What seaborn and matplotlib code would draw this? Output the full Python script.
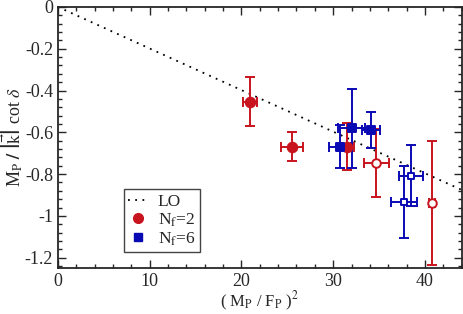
import numpy as np
import pandas as pd
import matplotlib
matplotlib.use("Agg")
import matplotlib.pyplot as plt
import seaborn as sns
from matplotlib.ticker import MultipleLocator
from matplotlib.lines import Line2D

# N_f = 2 (red), filled
nf2_x = [20.95, 25.5, 31.5]
nf2_y = [-0.453, -0.668, -0.668]
nf2_xerr = [0.8, 1.2, 0.8]
nf2_yerr = [0.116, 0.07, 0.112]
# N_f = 2 (red), open
nf2o_x = [34.7, 40.75]
nf2o_y = [-0.748, -0.939]
nf2o_xerr = [1.35, 0.3]
nf2o_yerr = [0.162, 0.297]
# N_f = 6 (blue), filled
nf6_x = [30.7, 32.0, 34.1]
nf6_y = [-0.668, -0.581, -0.589]
nf6_xerr = [1.2, 1.5, 1.0]
nf6_yerr = [0.104, 0.19, 0.084]
# N_f = 6 (blue), open
nf6o_x = [38.5, 37.7]
nf6o_y = [-0.807, -0.934]
nf6o_xerr = [1.3, 1.4]
nf6o_yerr = [0.146, 0.172]

lo_x = [0, 44]
lo_slope = -1 / (16 * np.pi)

RED = "#c8141e"
BLUE = "#0a0ab4"

sns.set_style("ticks")
plt.rcParams["font.family"] = ["Liberation Serif", "DejaVu Serif"]
plt.rcParams["mathtext.fontset"] = "stix"

fig, ax = plt.subplots(figsize=(4.63, 3.14), dpi=100)
fig.subplots_adjust(left=0.125, right=0.997, top=0.978, bottom=0.146)

lo = pd.DataFrame({"x": lo_x, "y": [lo_slope * v for v in lo_x]})
sns.lineplot(data=lo, x="x", y="y", ax=ax, color="black", lw=1.3,
             linestyle=(0, (1, 3)), legend=False)

def draw(xs, ys, xe, ye, color, marker, open_, ms):
    ax.errorbar(xs, ys, xerr=xe, yerr=ye, fmt="none", ecolor=color,
                elinewidth=1.4, capsize=3.8, capthick=1.4, zorder=2)
    df = pd.DataFrame({"x": xs, "y": ys})
    sns.scatterplot(data=df, x="x", y="y", ax=ax, marker=marker, s=ms,
                    color="white" if open_ else color, edgecolor=color,
                    linewidth=1.4, zorder=3, legend=False)

draw(nf2_x, nf2_y, nf2_xerr, nf2_yerr, RED, "o", False, 48)
draw(nf2o_x, nf2o_y, nf2o_xerr, nf2o_yerr, RED, "o", True, 38)
draw(nf6_x, nf6_y, nf6_xerr, nf6_yerr, BLUE, "s", False, 30)
draw(nf6o_x, nf6o_y, nf6o_xerr, nf6o_yerr, BLUE, "s", True, 24)

ax.set_xlim(0, 44)
ax.set_ylim(-1.25, 0)
ax.xaxis.set_major_locator(MultipleLocator(10))
ax.xaxis.set_minor_locator(MultipleLocator(2))
ax.yaxis.set_major_locator(MultipleLocator(0.2))
ax.yaxis.set_minor_locator(MultipleLocator(0.04))
ax.yaxis.set_major_formatter(plt.FuncFormatter(
    lambda v, p: "0" if abs(v) < 1e-9 else ("%g" % round(v, 2))))
ax.tick_params(which="both", direction="in", top=True, right=True, labelsize=13)
ax.tick_params(which="major", length=6, width=1)
ax.tick_params(which="minor", length=3, width=1)
for s in ax.spines.values():
    s.set_linewidth(1.3)

ax.set_xlabel(r"( M$_\mathrm{P}$ / F$_\mathrm{P}$ )$^2$", fontsize=12, labelpad=0)
ax.set_ylabel(r"M$_\mathrm{P}$ $\mathbf{/}$ $\left|\vec{\mathrm{k}}\right|$ cot $\delta$",
              fontsize=13, labelpad=0)

handles = [
    Line2D([], [], color="black", lw=1.3, linestyle=(0, (1, 3))),
    Line2D([], [], color=RED, marker="o", ls="none", ms=7),
    Line2D([], [], color=BLUE, marker="s", ls="none", ms=5.5),
]
ax.legend(handles, ["LO", r"N$_\mathrm{f}$=2", r"N$_\mathrm{f}$=6"],
          loc="lower left", bbox_to_anchor=(0.163, 0.061), fontsize=12.5,
          frameon=True, fancybox=False, edgecolor="#444444", handlelength=1.2,
          handletextpad=0.5, borderpad=0.25, borderaxespad=0,
          labelspacing=0.1, framealpha=1)

fig.savefig("out.png", dpi=100)
